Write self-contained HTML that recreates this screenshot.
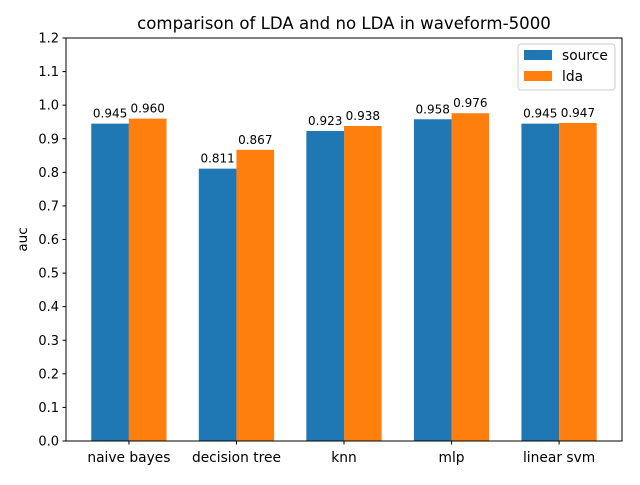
<!DOCTYPE html>
<html><head><meta charset="utf-8"><style>
body{margin:0;background:#fff;}
svg{font-family:"DejaVu Sans","Liberation Sans",sans-serif;}
</style></head><body>
<svg id="chart" width="640" height="480" xmlns="http://www.w3.org/2000/svg">
<rect width="640" height="480" fill="#fff"/>
<text x="344" y="29" font-size="16.6" text-anchor="middle">comparison of LDA and no LDA in waveform-5000</text>
<g id="plot"></g>
</svg>
<script>
const categories = ["naive bayes","decision tree","knn","mlp","linear svm"];
const sourceValues = [0.945,0.811,0.923,0.958,0.945];
const ldaValues = [0.960,0.867,0.938,0.976,0.947];
const yTicks = [0.0,0.1,0.2,0.3,0.4,0.5,0.6,0.7,0.8,0.9,1.0,1.1,1.2];

const L=66,R=622,T=38,B=441;
const xmin=-0.585,xmax=4.585,ymin=0,ymax=1.2;
const xs=v=>L+(v-xmin)/(xmax-xmin)*(R-L);
const ys=v=>B-(v-ymin)/(ymax-ymin)*(B-T);
const NS="http://www.w3.org/2000/svg";
const g=document.getElementById('plot');
function mk(tag,attrs,parent){const e=document.createElementNS(NS,tag);for(const k in attrs)e.setAttribute(k,attrs[k]);(parent||g).appendChild(e);return e;}
const w=0.35;
function series(vals,off,color,name){
  vals.forEach((v,i)=>{
    const x0=xs(i+off-w/2),x1=xs(i+off+w/2);
    const r=mk('rect',{x:x0,y:ys(v),width:x1-x0,height:ys(0)-ys(v),fill:color});
    
    
    const t=mk('text',{x:(x0+x1)/2,y:ys(v)-6,'font-size':12,'text-anchor':'middle'});
    t.textContent=v.toFixed(3);
    
    
  });
}
series(sourceValues,-0.175,'#1f77b4','source');
series(ldaValues,0.175,'#ff7f0e','lda');
const f=mk('rect',{x:L,y:T,width:R-L,height:B-T,fill:'none',stroke:'#000','stroke-width':1});


yTicks.forEach(v=>{
  const y=ys(v);
  mk('line',{x1:L-3.5,x2:L,y1:y,y2:y,stroke:'#000'});
  const t=mk('text',{x:L-7,y:y+4.5,'font-size':13,'text-anchor':'end'});
  t.textContent=v.toFixed(1);
  
  
});
categories.forEach((c,i)=>{
  const x=xs(i);
  mk('line',{x1:x,x2:x,y1:B,y2:B+3.5,stroke:'#000'});
  const t=mk('text',{x:x,y:B+21,'font-size':13.8,'text-anchor':'middle'});
  t.textContent=c;
  
  
});
const yl=mk('text',{x:27,y:(T+B)/2,'font-size':13.5,'text-anchor':'middle',transform:`rotate(-90 27 ${(T+B)/2})`});
yl.textContent='auc';


const lg=mk('g',{});


mk('rect',{x:518,y:44,width:97,height:46,rx:3,fill:'#fff',stroke:'#ccc'},lg);
[['source','#1f77b4'],['lda','#ff7f0e']].forEach((s,i)=>{
  const y=50+i*21;
  mk('rect',{x:524,y:y,width:28,height:10,fill:s[1]},lg);
  const t=mk('text',{x:562,y:y+10,'font-size':13.8},lg);
  t.textContent=s[0];
  
  
});
</script>
</body></html>
